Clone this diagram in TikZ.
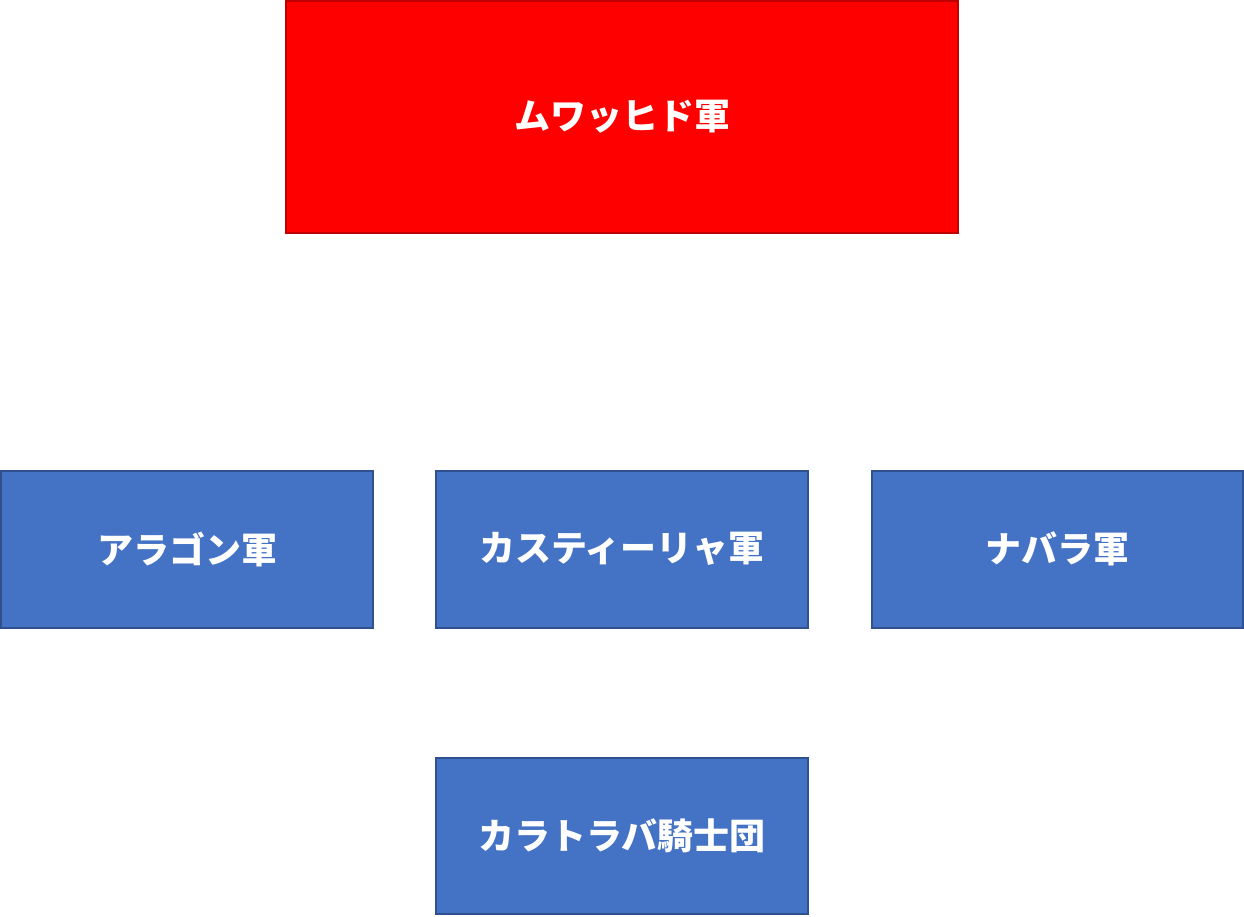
\documentclass[tikz,border=0pt]{standalone}
\usepackage{fontspec}
\newfontfamily\cjk{Noto Sans CJK JP}
\definecolor{bluefill}{HTML}{4472C4}
\definecolor{blueedge}{HTML}{2F528F}
\definecolor{rededge}{HTML}{C00000}
\begin{document}
\begin{tikzpicture}[x=1pt,y=-1pt,
  box/.style={draw=blueedge,fill=bluefill,line width=1.2pt},
  lbl/.style={text=white,font=\cjk\bfseries\fontsize{36}{40}\selectfont}]
\useasboundingbox (0,0) rectangle (1244,916);
\draw[fill=red,draw=rededge,line width=1.2pt] (286,1) rectangle (958,233);
\node[lbl] (m) at (622,117) {ムワッヒド軍};
\draw[box] (1,471) rectangle (373,628);
\node[lbl] (a) at (187,549) {アラゴン軍};
\draw[box] (436,471) rectangle (808,628);
\node[lbl] (c) at (622,549) {カスティーリャ軍};
\draw[box] (872,471) rectangle (1243,628);
\node[lbl] (n) at (1057,549) {ナバラ軍};
\draw[box] (436,758) rectangle (808,914);
\node[lbl] (k) at (622,836) {カラトラバ騎士団};
\end{tikzpicture}
\end{document}
